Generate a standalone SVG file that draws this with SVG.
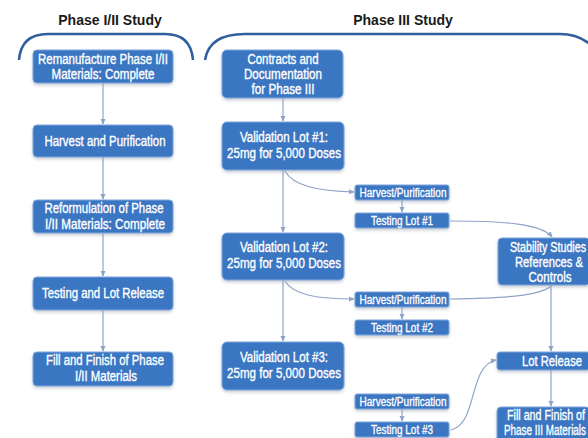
<svg xmlns="http://www.w3.org/2000/svg" width="588" height="438" viewBox="0 0 588 438">
<defs>
<style>
.title{font-family:"Liberation Sans",Arial,sans-serif;font-weight:bold;font-size:14px;fill:#1a1a1a;text-anchor:middle}
.box{fill:#3b76c3;stroke:#7ea6dc;stroke-width:1;filter:url(#sh)}
.t{font-family:"Liberation Sans",Arial,sans-serif;font-size:14px;fill:#fff;stroke:#fff;stroke-width:0.35;text-anchor:middle}
.ts{font-family:"Liberation Sans",Arial,sans-serif;font-size:12px;fill:#fff;stroke:#fff;stroke-width:0.3;text-anchor:middle}
.br{fill:none;stroke:#2f5f9e;stroke-width:2.5}
.c{fill:none;stroke:#8ea4c6;stroke-width:1.2}
</style>
<filter id="sh" x="-10%" y="-20%" width="120%" height="150%">
<feDropShadow dx="0" dy="2" stdDeviation="1.5" flood-color="#9aa3ad" flood-opacity="0.5"/>
</filter>
<marker id="a" viewBox="0 0 8 8" refX="7" refY="4" markerWidth="6" markerHeight="6" orient="auto" markerUnits="userSpaceOnUse">
<path d="M0,0.5 L8,4 L0,7.5 Z" fill="#8ea4c6"/>
</marker>
</defs>
<rect width="588" height="438" fill="#ffffff"/>
<text class="title" x="110" y="25">Phase I/II Study</text>
<text class="title" x="403" y="25">Phase III Study</text>
<path class="br" d="M19,60 Q21,34 48,34 L165,34 Q191,34 193,60"/>
<path class="br" d="M205,60 Q209,34 245,34 L560,34 Q582,34 596,50"/>

<g id="connectors">
<path class="c" d="M103,83 L103,124" marker-end="url(#a)"/>
<path class="c" d="M103,157 L103,199" marker-end="url(#a)"/>
<path class="c" d="M103,233 L103,276" marker-end="url(#a)"/>
<path class="c" d="M103,310 L103,351" marker-end="url(#a)"/>
<path class="c" d="M283,98 L283,121" marker-end="url(#a)"/>
<path class="c" d="M283,170 L283,232" marker-end="url(#a)"/>
<path class="c" d="M283,280 L283,341" marker-end="url(#a)"/>
<path class="c" d="M285,171 C293,186 318,191 354,192" marker-end="url(#a)"/>
<path class="c" d="M285,281 C293,295 318,299 354,299" marker-end="url(#a)"/>
<path class="c" d="M402,200 L402,212" marker-end="url(#a)"/>
<path class="c" d="M402,307 L402,319" marker-end="url(#a)"/>
<path class="c" d="M402,409 L402,421" marker-end="url(#a)"/>
<path class="c" d="M450,221 C505,221 542,224 552,237" marker-end="url(#a)"/>
<path class="c" d="M450,299 C505,298 540,296 551,286"/>
<path class="c" d="M551,285 L551,351" marker-end="url(#a)"/>
<path class="c" d="M551,370 L551,406" marker-end="url(#a)"/>
<path class="c" d="M451,430 C478,424 468,366 496,360" marker-end="url(#a)"/>
</g>

<g id="n1"><rect class="box" x="33" y="50" width="140" height="33" rx="4"/>
<text class="t" x="103" y="64" textLength="130" lengthAdjust="spacingAndGlyphs">Remanufacture Phase I/II</text>
<text class="t" x="103" y="79" textLength="103" lengthAdjust="spacingAndGlyphs">Materials:  Complete</text></g>
<g id="n2"><rect class="box" x="33" y="125" width="140" height="32" rx="4"/>
<text class="t" x="105" y="146" textLength="121" lengthAdjust="spacingAndGlyphs">Harvest and Purification</text></g>
<g id="n3"><rect class="box" x="33" y="200" width="140" height="33" rx="4"/>
<text class="t" x="104" y="213" textLength="119" lengthAdjust="spacingAndGlyphs">Reformulation of Phase</text>
<text class="t" x="105" y="229" textLength="120" lengthAdjust="spacingAndGlyphs">I/II Materials: Complete</text></g>
<g id="n4"><rect class="box" x="33" y="277" width="140" height="33" rx="4"/>
<text class="t" x="103" y="298" textLength="122" lengthAdjust="spacingAndGlyphs">Testing and Lot Release</text></g>
<g id="n5"><rect class="box" x="33" y="352" width="140" height="34" rx="4"/>
<text class="t" x="105" y="365" textLength="118" lengthAdjust="spacingAndGlyphs">Fill and Finish of Phase</text>
<text class="t" x="106" y="381" textLength="62" lengthAdjust="spacingAndGlyphs">I/II Materials</text></g>

<g id="n6"><rect class="box" x="222" y="50" width="121" height="48" rx="5"/>
<text class="t" x="283" y="64" textLength="71" lengthAdjust="spacingAndGlyphs">Contracts and</text>
<text class="t" x="283" y="79" textLength="78" lengthAdjust="spacingAndGlyphs">Documentation</text>
<text class="t" x="283" y="94" textLength="63" lengthAdjust="spacingAndGlyphs">for Phase III</text></g>
<g id="n7"><rect class="box" x="222" y="122" width="122" height="48" rx="5"/>
<text class="t" x="284" y="142" textLength="88" lengthAdjust="spacingAndGlyphs">Validation Lot #1:</text>
<text class="t" x="284" y="158" textLength="114" lengthAdjust="spacingAndGlyphs">25mg for 5,000 Doses</text></g>
<g id="n8"><rect class="box" x="222" y="233" width="122" height="47" rx="5"/>
<text class="t" x="284" y="252" textLength="88" lengthAdjust="spacingAndGlyphs">Validation Lot #2:</text>
<text class="t" x="284" y="268" textLength="114" lengthAdjust="spacingAndGlyphs">25mg for 5,000 Doses</text></g>
<g id="n9"><rect class="box" x="222" y="342" width="122" height="48" rx="5"/>
<text class="t" x="284" y="362" textLength="88" lengthAdjust="spacingAndGlyphs">Validation Lot #3:</text>
<text class="t" x="284" y="378" textLength="114" lengthAdjust="spacingAndGlyphs">25mg for 5,000 Doses</text></g>

<g id="n10"><rect class="box" x="355" y="185" width="94" height="15" rx="2"/>
<text class="ts" x="403" y="197" textLength="87" lengthAdjust="spacingAndGlyphs">Harvest/Purification</text></g>
<g id="n11"><rect class="box" x="355" y="213" width="94" height="15" rx="2"/>
<text class="ts" x="402" y="225" textLength="62" lengthAdjust="spacingAndGlyphs">Testing Lot #1</text></g>
<g id="n12"><rect class="box" x="355" y="292" width="94" height="15" rx="2"/>
<text class="ts" x="403" y="304" textLength="87" lengthAdjust="spacingAndGlyphs">Harvest/Purification</text></g>
<g id="n13"><rect class="box" x="355" y="320" width="94" height="15" rx="2"/>
<text class="ts" x="402" y="332" textLength="62" lengthAdjust="spacingAndGlyphs">Testing Lot #2</text></g>
<g id="n14"><rect class="box" x="355" y="394" width="94" height="15" rx="2"/>
<text class="ts" x="403" y="406" textLength="87" lengthAdjust="spacingAndGlyphs">Harvest/Purification</text></g>
<g id="n15"><rect class="box" x="355" y="422" width="94" height="15" rx="2"/>
<text class="ts" x="402" y="434" textLength="62" lengthAdjust="spacingAndGlyphs">Testing Lot #3</text></g>

<g id="n16"><rect class="box" x="498" y="238" width="92" height="47" rx="4"/>
<text class="t" x="548" y="252" textLength="76" lengthAdjust="spacingAndGlyphs">Stability Studies</text>
<text class="t" x="549" y="267" textLength="68" lengthAdjust="spacingAndGlyphs">References &amp;</text>
<text class="t" x="550" y="282" textLength="43" lengthAdjust="spacingAndGlyphs">Controls</text></g>
<g id="n17"><rect class="box" x="497" y="352" width="93" height="18" rx="3"/>
<text class="t" x="552" y="366" textLength="60" lengthAdjust="spacingAndGlyphs">Lot Release</text></g>
<g id="n18"><rect class="box" x="497" y="407" width="93" height="40" rx="4"/>
<text class="t" x="546" y="420" textLength="78" lengthAdjust="spacingAndGlyphs">Fill and Finish of</text>
<text class="t" x="545" y="435" textLength="82" lengthAdjust="spacingAndGlyphs">Phase III Materials</text></g>
</svg>
